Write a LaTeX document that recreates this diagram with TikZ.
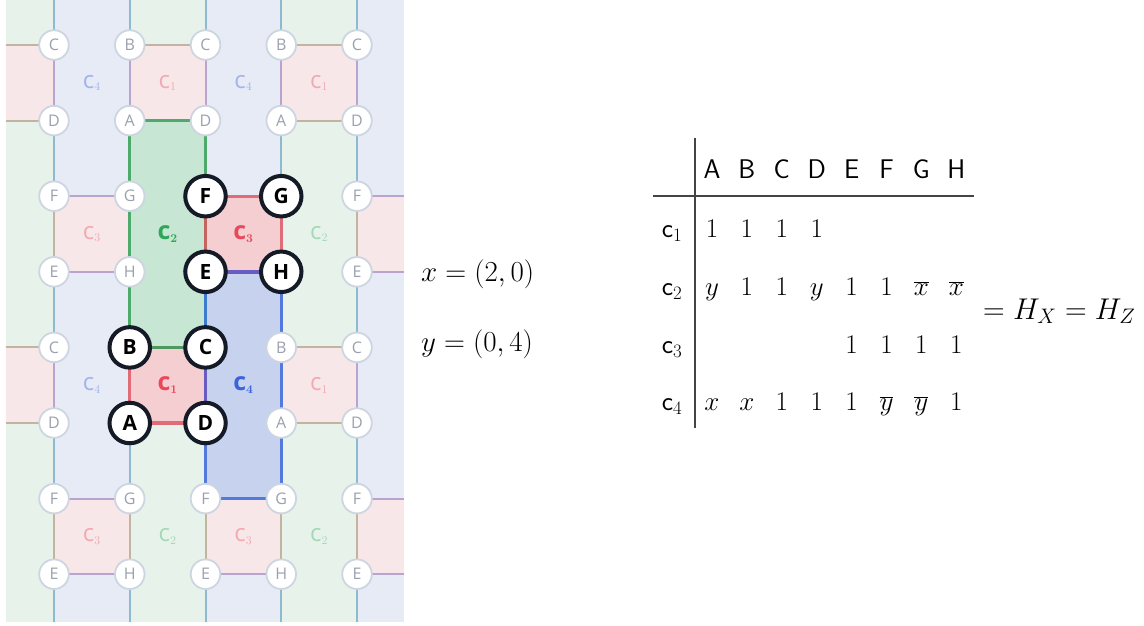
\RequirePackage{fix-cm}
\documentclass[tikz,border=0pt]{standalone}
\usepackage{fontspec}
\newfontfamily\sitefont{Open Sans}
\usetikzlibrary{positioning}

\definecolor{bgG}{HTML}{E7F3EA}
\definecolor{bgB}{HTML}{E7EBF6}
\definecolor{bgP}{HTML}{F8E7E8}
\definecolor{hiG}{HTML}{C7E6D4}
\definecolor{hiP}{HTML}{F5CED2}
\definecolor{hiB}{HTML}{C7D2EF}
\definecolor{lnTeal}{HTML}{8DBAD0}
\definecolor{lnPurp}{HTML}{BBA3D0}
\definecolor{lnTan}{HTML}{C2B49F}
\definecolor{edG}{HTML}{4DAA6A}
\definecolor{edR}{HTML}{E06C78}
\definecolor{edB}{HTML}{5279DB}
\definecolor{edGR}{HTML}{4E9A5E}
\definecolor{edRG}{HTML}{C4645E}
\definecolor{edGB}{HTML}{3D7BCC}
\definecolor{edRB}{HTML}{685CC2}
\definecolor{siteRim}{HTML}{CDD5E1}
\definecolor{siteText}{HTML}{9AA1AE}
\definecolor{hotRim}{HTML}{141A26}
\definecolor{labG}{HTML}{A3D9B5}
\definecolor{labP}{HTML}{F3A9B1}
\definecolor{labB}{HTML}{A3B3EC}
\definecolor{hotG}{HTML}{2FA658}
\definecolor{hotP}{HTML}{E8495B}
\definecolor{hotB}{HTML}{3A64D8}
\definecolor{ruleGray}{HTML}{444444}

\newcommand{\facelab}[1]{{\fontsize{24}{24}\selectfont\sitefont c}$_{#1}$}
\newcommand{\hotlab}[1]{{\fontsize{25}{25}\selectfont\sitefont\bfseries c}{\boldmath$_{#1}$}}

\begin{document}
\begin{tikzpicture}[x=1pt,y=-1pt,
  site/.style={circle,fill=white,draw=siteRim,line width=1.8pt,minimum size=29.6pt,
    inner sep=0pt,text=siteText,font=\sitefont\fontsize{16}{17}\selectfont},
  hot site/.style={circle,fill=white,draw=hotRim,line width=4pt,minimum size=40.5pt,
    inner sep=0pt,text=black,font=\sitefont\bfseries\fontsize{21}{22}\selectfont},
  teal line/.style={draw=lnTeal,line width=2pt},
  purp line/.style={draw=lnPurp,line width=2pt},
  tan line/.style={draw=lnTan,line width=2pt},
  hot edge/.style={line width=3.4pt,line cap=round},
  face/.style={inner sep=0pt,font=\fontsize{17}{20}\selectfont},
  head/.style={anchor=base,font=\sffamily\fontsize{27}{30}\selectfont},
  entry/.style={anchor=base,font=\fontsize{27}{30}\selectfont},
  eq/.style={anchor=base west,inner sep=0pt,font=\fontsize{29}{33}\selectfont}]

  \useasboundingbox (0,0) rectangle (1144,625);
  \fill[white] (0,0) rectangle (1144,625);

  \begin{scope}[shift={(54,45)},x=75.75pt,y=-75.6pt]
    % lattice points
    \foreach \i in {0,...,4} {
      \foreach \j in {0,...,7}
        \coordinate (p-\i-\j) at (\i,\j);
      \coordinate (p-\i-t) at (\i,-0.595);
      \coordinate (p-\i-b) at (\i,7.632);
    }
    \foreach \j in {0,...,7} {
      \coordinate (p-l-\j) at (-0.634,\j);
      \coordinate (p-r-\j) at (4.62,\j);
    }

    % background bands
    \foreach \a/\b in {-0.634/0,1/2,3/4} {
      \fill[bgG] (\a,-0.595) rectangle (\b,7.632);
      \fill[bgP] (\a,0) rectangle (\b,1) (\a,4) rectangle (\b,5);
    }
    \foreach \a/\b in {0/1,2/3,4/4.62} {
      \fill[bgB] (\a,-0.595) rectangle (\b,7.632);
      \fill[bgP] (\a,2) rectangle (\b,3) (\a,6) rectangle (\b,7);
    }

    % faint edges
    \foreach \i in {0,...,4}
      \foreach \j/\k/\c in {t/0/teal,0/1/purp,1/2/teal,2/3/tan,3/4/teal,
                            4/5/purp,5/6/teal,6/7/tan,7/b/teal}
        \draw[\c\space line] (p-\i-\j) -- (p-\i-\k);
    \foreach \a/\b in {l/0,1/2,3/4}
      \foreach \j in {0,1,4,5}
        \draw[tan line] (p-\a-\j) -- (p-\b-\j);
    \foreach \a/\b in {0/1,2/3,4/r}
      \foreach \j in {2,3,6,7}
        \draw[purp line] (p-\a-\j) -- (p-\b-\j);

    % highlighted checks
    \fill[hiG] (p-1-1) rectangle (p-2-4);
    \fill[hiP] (p-2-2) rectangle (p-3-3);
    \fill[hiP] (p-1-4) rectangle (p-2-5);
    \fill[hiB] (p-2-3) rectangle (p-3-6);

    \draw[hot edge,edG] (p-1-4) -- (p-1-1) -- (p-2-1) -- (p-2-2);
    \draw[hot edge,edRG] (p-2-2) -- (p-2-3);
    \draw[hot edge,edGB] (p-2-3) -- (p-2-4);
    \draw[hot edge,edGR] (p-1-4) -- (p-2-4);
    \draw[hot edge,edR] (p-2-2) -- (p-3-2) -- (p-3-3);
    \draw[hot edge,edRB] (p-2-3) -- (p-3-3);
    \draw[hot edge,edR] (p-1-4) -- (p-1-5) -- (p-2-5);
    \draw[hot edge,edRB] (p-2-4) -- (p-2-5);
    \draw[hot edge,edB] (p-2-5) -- (p-2-6) -- (p-3-6) -- (p-3-3);

    % check labels
    \node[face,text=labB] (c4-a) at (0.5,0.5) {\facelab{4}};
    \node[face,text=labB] (c4-b) at (2.5,0.5) {\facelab{4}};
    \node[face,text=labB] (c4-c) at (0.5,4.5) {\facelab{4}};
    \node[face,text=labP] (c1-a) at (1.5,0.5) {\facelab{1}};
    \node[face,text=labP] (c1-b) at (3.5,0.5) {\facelab{1}};
    \node[face,text=labP] (c1-c) at (3.5,4.5) {\facelab{1}};
    \node[face,text=labP] (c3-a) at (0.5,2.5) {\facelab{3}};
    \node[face,text=labP] (c3-b) at (0.5,6.5) {\facelab{3}};
    \node[face,text=labP] (c3-c) at (2.5,6.5) {\facelab{3}};
    \node[face,text=labG] (c2-a) at (3.5,2.5) {\facelab{2}};
    \node[face,text=labG] (c2-b) at (1.5,6.5) {\facelab{2}};
    \node[face,text=labG] (c2-c) at (3.5,6.5) {\facelab{2}};
    \node[face,text=hotG] (c2-hot) at (1.5,2.5) {\hotlab{2}};
    \node[face,text=hotP] (c3-hot) at (2.5,2.5) {\hotlab{3}};
    \node[face,text=hotP] (c1-hot) at (1.5,4.5) {\hotlab{1}};
    \node[face,text=hotB] (c4-hot) at (2.5,4.5) {\hotlab{4}};
  \end{scope}

  % qubits
  \foreach \j/\ev/\od in {0/C/B,1/D/A,2/F/G,3/E/H,4/C/B,5/D/A,6/F/G,7/E/H}
    \foreach \i in {0,...,4} {
      \ifodd\i \edef\lt{\od}\else \edef\lt{\ev}\fi
      \pgfmathtruncatemacro\hot{(((\i==2)||(\i==3))&&((\j==2)||(\j==3)))||(((\i==1)||(\i==2))&&((\j==4)||(\j==5)))}
      \ifnum\hot=1
        \node[hot site] (v-\i-\j) at (p-\i-\j) {\lt};
      \else
        \node[site] (v-\i-\j) at (p-\i-\j) {\lt};
      \fi
    }

  % shift vectors
  \node[eq] (xvec) at (421,281) {$x = (2,0)$};
  \node[eq] (yvec) at (421,351) {$y = (0,4)$};

  % check matrix
  \coordinate (rule-top) at (695,138);
  \coordinate (rule-bot) at (695,428);
  \coordinate (rule-l) at (653,196);
  \coordinate (rule-r) at (974,196);
  \draw[ruleGray,line width=1.2pt] (rule-top) -- (rule-bot);
  \draw[ruleGray,line width=1.2pt] (rule-l) -- (rule-r);

  \foreach \h [count=\k from 0] in {A,...,H}
    \node[head] (h-\h) at (712+34.9*\k,178) {\h};

  \foreach \r/\yy/\cells in {1/237/{0/1,1/1,2/1,3/1},
      2/295/{0/y,1/1,2/1,3/y,4/1,5/1,6/\overline{x},7/\overline{x}},
      3/353/{4/1,5/1,6/1,7/1},
      4/410/{0/x,1/x,2/1,3/1,4/1,5/\overline{y},6/\overline{y},7/1}} {
    \node[entry] (r-\r) at (672,\yy) {$\mathsf{c}_{\r}$};
    \foreach \k/\e in \cells
      \node[entry] (e-\r-\k) at (712+34.9*\k,\yy) {$\e$};
  }

  \node[eq,font=\fontsize{30}{34}\selectfont] (hxz) at (983,319) {$= H_X = H_Z$};
\end{tikzpicture}
\end{document}
